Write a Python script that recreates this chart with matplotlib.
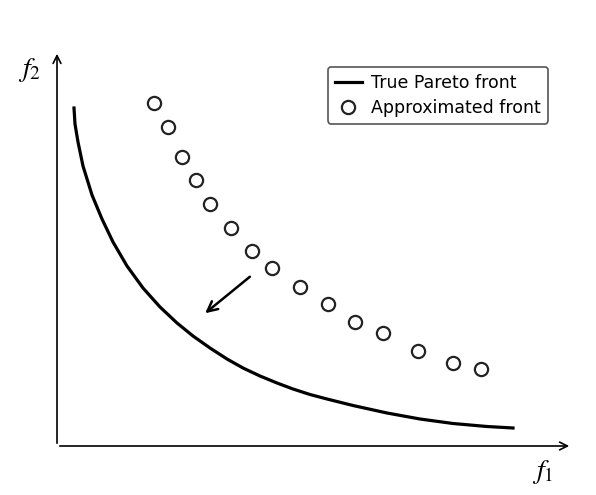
import numpy as np
import matplotlib.pyplot as plt

# Data (origin at axis corner, units ~ pixels)
true_f1 = [17, 18, 21, 26, 35, 45, 56, 70, 86, 103, 120, 136, 153, 170, 186, 203,
           220, 236, 253, 270, 296, 330, 363, 396, 430, 456]
true_f2 = [338, 322, 304, 280, 251, 227, 204, 180, 158, 139, 123, 110, 98, 87, 78, 70,
           63, 57, 51.5, 47, 40.5, 33, 27, 22.5, 19.5, 18]

approx_f1 = [97, 111, 125, 139, 153, 174, 195, 215, 243, 271, 298, 326, 361, 396, 424]
approx_f2 = [343, 319, 289, 266, 242, 218, 195, 178, 159, 142, 124, 113, 95, 83, 77]

arrow_from = (195, 171)
arrow_to = (146, 131)

# Figure
fig = plt.figure(figsize=(5.96, 4.95), dpi=100)
ax = fig.add_axes([0, 0, 1, 1])
ax.set_xlim(-57, 539)
ax.set_ylim(-49, 446)
ax.axis('off')

# axes with arrow heads
ax.annotate('', xy=(515, 0), xytext=(0, 0),
            arrowprops=dict(arrowstyle='->', color='black', lw=1.2, mutation_scale=14))
ax.annotate('', xy=(0, 395), xytext=(0, 0),
            arrowprops=dict(arrowstyle='->', color='black', lw=1.2, mutation_scale=14))

ax.plot(true_f1, true_f2, color='black', lw=2.3, solid_joinstyle='round',
        label='True Pareto front')
ax.plot(approx_f1, approx_f2, 'o', ms=9.5, mfc='white', mec='#222222', mew=1.6,
        label='Approximated front')

ax.annotate('', xy=arrow_to, xytext=arrow_from,
            arrowprops=dict(arrowstyle='->', color='black', lw=1.8, mutation_scale=18))

plt.rcParams['mathtext.fontset'] = 'stix'
ax.text(-27, 376, r'$f_2$', fontsize=20, ha='center', va='center')
ax.text(486, -26, r'$f_1$', fontsize=20, ha='center', va='center')

leg = ax.legend(loc='upper left', bbox_to_anchor=(328 / 596, 1 - 67 / 495),
                borderaxespad=0, fontsize=12.5, fancybox=True, framealpha=1,
                handlelength=1.55, labelspacing=0.4, borderpad=0.4, handletextpad=0.55)
leg.get_frame().set_edgecolor('#555555')
leg.get_frame().set_linewidth(1.2)

fig.savefig('out.png', dpi=100)
